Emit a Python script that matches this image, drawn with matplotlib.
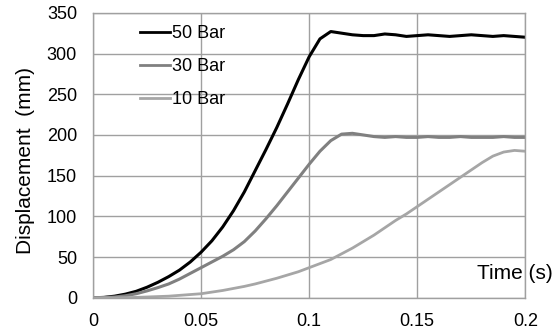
import numpy as np
import matplotlib
matplotlib.use('Agg')
import matplotlib.pyplot as plt

plt.rcParams['font.family'] = ['Liberation Sans', 'DejaVu Sans']

# 时间 (s)，每 5 ms 读一个点
time = np.round(np.arange(0, 0.2001, 0.005), 3)

# 位移 (mm)
disp_50 = [0, 0.5, 2, 4.5, 8, 13, 19, 26, 34, 44, 56, 70, 87, 107, 130, 156, 182, 209,
           238, 268, 296, 318, 327, 325, 323, 322, 322, 324, 323, 321, 322, 323, 322,
           321, 322, 323, 322, 321, 322, 321, 320]
disp_30 = [0, 0.3, 1, 2.5, 5, 8.5, 12.5, 17, 23, 30, 37, 44, 51, 59, 69, 82, 97, 113,
           130, 147, 164, 180, 193, 201, 202, 200, 198, 197, 198, 197, 197, 198, 197,
           197, 198, 197, 197, 197, 198, 197, 197]
disp_10 = [0, 0, 0, 0.2, 0.5, 1, 1.5, 2, 3, 4, 5, 7, 9, 11.5, 14, 17, 20.5, 24, 28, 32,
           37, 42, 47, 54, 61, 69, 77, 86, 95, 103, 112, 121, 130, 139, 148, 157, 166,
           174, 179, 181, 180]

labels = ['50 Bar', '30 Bar', '10 Bar']
colors = ['#000000', '#808080', '#a6a6a6']

fig = plt.figure(figsize=(5.59, 3.31), dpi=100)
ax = fig.add_axes([0.1664, 0.1003, 0.7733, 0.861])

ax.plot(time, disp_50, color=colors[0], linewidth=2.2, label=labels[0])
ax.plot(time, disp_30, color=colors[1], linewidth=2.2, label=labels[1])
ax.plot(time, disp_10, color=colors[2], linewidth=2.0, label=labels[2])

ax.set_xlim(0, 0.2)
ax.set_ylim(0, 350)
ax.set_xticks([0, 0.05, 0.1, 0.15, 0.2])
ax.set_xticklabels(['0', '0.05', '0.1', '0.15', '0.2'])
ax.set_yticks(range(0, 351, 50))
ax.tick_params(length=0, labelsize=13)
ax.tick_params(axis='x', pad=11)
ax.tick_params(axis='y', pad=11.5)
ax.grid(True, color='#a0a0a0', linewidth=1)
for s in ax.spines.values():
    s.set_color('#a0a0a0')
    s.set_linewidth(1)

ax.set_ylabel('Displacement  (mm)', fontsize=15)
ax.yaxis.set_label_coords(-0.134, 0.4835)
ax.text(0.888, 0.085, 'Time (s)', transform=ax.transAxes, fontsize=15,
        va='center', ha='left', clip_on=False)

leg = ax.legend(loc='upper left', bbox_to_anchor=(0.07, 1.014), frameon=False,
                fontsize=13, handlelength=1.7, handletextpad=0.1, labelspacing=0.88)
for h in leg.get_lines():
    h.set_linewidth(2)

plt.savefig('out.png', dpi=100)
